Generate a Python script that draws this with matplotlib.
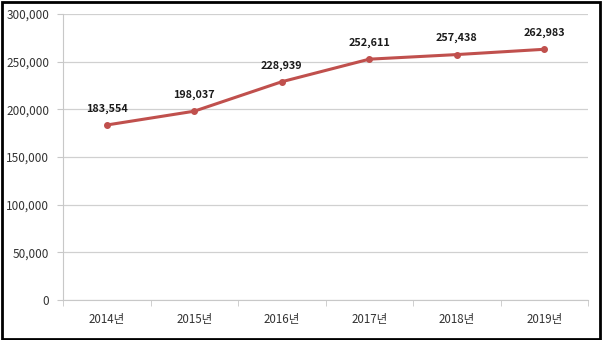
import matplotlib.pyplot as plt
from matplotlib.patches import Rectangle

plt.rcParams['font.family'] = ['Noto Sans CJK KR', 'DejaVu Sans']

years = ['2014년', '2015년', '2016년', '2017년', '2018년', '2019년']
values = [183554, 198037, 228939, 252611, 257438, 262983]

fig = plt.figure(figsize=(6.02, 3.4), dpi=100)
ax = fig.add_axes([63 / 602, 40 / 340, 525 / 602, 286 / 340])

x = list(range(len(years)))
ax.plot(x, values, color='#C0504D', linewidth=2.2, marker='o', markersize=4)

for xi, v in zip(x, values):
    ax.annotate(f'{v:,}', (xi, v), xytext=(0, 8), textcoords='offset points',
                ha='center', va='bottom', fontsize=7.8, fontweight='bold', color='#1a1a1a')

ax.set_xlim(-0.5, len(years) - 0.5)
ax.set_ylim(0, 300000)
ax.set_yticks(range(0, 300001, 50000))
ax.set_yticklabels([f'{t:,}' for t in range(0, 300001, 50000)])
ax.set_xticks(x)
ax.set_xticklabels(years)
ax.set_xticks([i - 0.5 for i in range(len(years) + 1)], minor=True)

ax.grid(axis='y', color='#d0d0d0', linewidth=0.9)
ax.set_axisbelow(True)
for s in ['top', 'right']:
    ax.spines[s].set_visible(False)
ax.spines['left'].set_color('#c8c8c8')
ax.spines['bottom'].set_color('#c8c8c8')
ax.tick_params(axis='x', which='major', length=0, pad=9, labelsize=8.3, labelcolor='#333333')
ax.tick_params(axis='x', which='minor', length=4, color='#c8c8c8')
ax.tick_params(axis='y', length=4, color='#c8c8c8', pad=6, labelsize=8.5, labelcolor='#333333')

fig.patches.append(Rectangle((0.003, 0.004), 0.994, 0.991, transform=fig.transFigure,
                             fill=False, edgecolor='black', linewidth=2))

fig.savefig('out.png', dpi=100)
